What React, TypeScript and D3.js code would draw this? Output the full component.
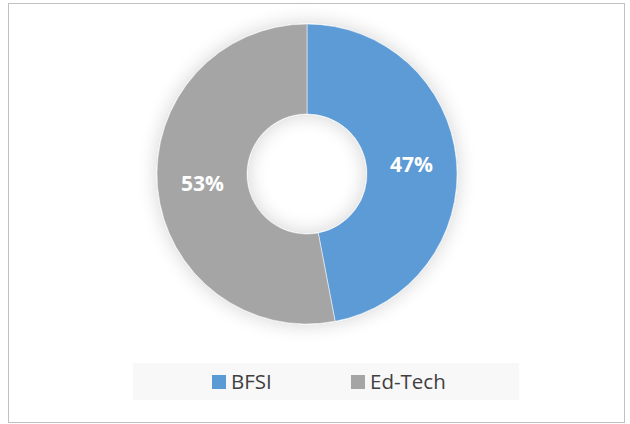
import React from "react";
import * as d3 from "d3";

const categories = ["BFSI", "Ed-Tech"];
const values = [47, 53];
const colors = ["#5B9BD5", "#A5A5A5"];

const W = 630;
const H = 424;
const cx = 307;
const cy = 174;
const outerR = 150;
const innerR = 60;

export default function App() {
  const pie = d3.pie<number>().sort(null).value((d) => d);
  const arcs = pie(values);
  const arc = d3.arc<d3.PieArcDatum<number>>().innerRadius(innerR).outerRadius(outerR);
  const total = d3.sum(values);

  const legendX = d3.scalePoint<string>().domain(categories).range([212, 351]);

  return (
    <div style={{ position: "absolute", left: 0, top: 0 }}>
      <svg width={W} height={H} style={{ display: "block" }}>
        <defs>
          <filter id="glow" x="-30%" y="-30%" width="160%" height="160%">
            <feGaussianBlur in="SourceAlpha" stdDeviation="10" />
            <feComponentTransfer>
              <feFuncA type="linear" slope="0.18" />
            </feComponentTransfer>
            <feMerge>
              <feMergeNode />
              <feMergeNode in="SourceGraphic" />
            </feMerge>
          </filter>
        </defs>
        <rect x={0} y={0} width={W} height={H} fill="#ffffff" />
        <rect x={8.5} y={3.5} width={616} height={419} fill="#ffffff" stroke="#c0c0c0" strokeWidth={1} />
        <g transform={`translate(${cx},${cy})`} filter="url(#glow)">
          {arcs.map((a, i) => (
            <path key={categories[i]} d={arc(a) || ""} fill={colors[i]} stroke="#ffffff" strokeWidth={0.5} />
          ))}
        </g>
        <g transform={`translate(${cx},${cy})`}>
          {arcs.map((a, i) => {
            const [x, y] = arc.centroid(a);
            return (
              <text
                key={categories[i]}
                x={x}
                y={y}
                dy="0.36em"
                textAnchor="middle"
                fill="#ffffff"
                fontFamily="'Open Sans', sans-serif"
                fontWeight={700}
                fontSize={21}
              >
                {Math.round((values[i] / total) * 100)}%
              </text>
            );
          })}
        </g>
        <rect x={133} y={363} width={386} height={37} fill="#f8f8f8" />
        {categories.map((c, i) => {
          const x = legendX(c) || 0;
          return (
            <g key={c}>
              <rect x={x} y={375} width={14} height={14} fill={colors[i]} />
              <text
                x={x + 19}
                y={389}
                fill="#404040"
                fontFamily="'Open Sans', sans-serif"
                fontSize={20.5}
              >
                {c}
              </text>
            </g>
          );
        })}
      </svg>
    </div>
  );
}
